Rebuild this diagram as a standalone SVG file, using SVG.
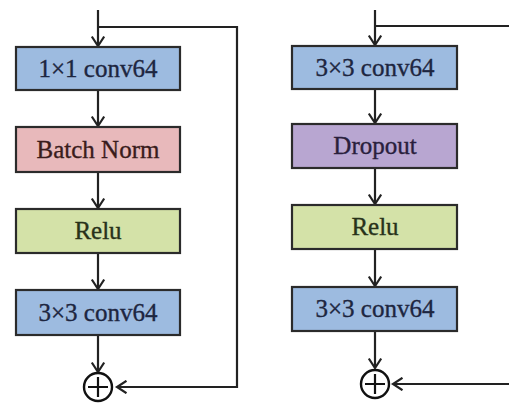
<svg xmlns="http://www.w3.org/2000/svg" width="509" height="404" viewBox="0 0 509 404">
<style>
.box{stroke:#2b2b2b;stroke-width:2.2}
.blue{fill:#9dbbe0}
.pink{fill:#e8b9bb}
.green{fill:#d4e2a8}
.purple{fill:#b8a6d1}
.lbl{font-family:"Liberation Serif","Times New Roman",serif;font-size:25px;text-anchor:middle;stroke-width:0.35}
.ln{fill:none;stroke:#222;stroke-width:2.2}
.sum{fill:#fff;stroke:#111;stroke-width:2.4}
</style>
<defs>
<marker id="ah" markerWidth="14" markerHeight="14" refX="11" refY="7" orient="auto" markerUnits="userSpaceOnUse">
<path d="M1.5,0.8 L11,7 L1.5,13.2" fill="none" stroke="#222" stroke-width="2.2"/>
</marker>
</defs>
<rect width="509" height="404" fill="#fff"/>
<g id="connectors">
<line class="ln" x1="98" y1="10" x2="98" y2="46" marker-end="url(#ah)"/>
<polyline class="ln" points="98,27 237,27 237,387 117,387" marker-end="url(#ah)"/>
<line class="ln" x1="98" y1="90" x2="98" y2="126" marker-end="url(#ah)"/>
<line class="ln" x1="98" y1="172" x2="98" y2="208" marker-end="url(#ah)"/>
<line class="ln" x1="98" y1="253" x2="98" y2="289" marker-end="url(#ah)"/>
<line class="ln" x1="98" y1="335" x2="98" y2="372" marker-end="url(#ah)"/>
<line class="ln" x1="375" y1="10" x2="375" y2="45" marker-end="url(#ah)"/>
<line class="ln" x1="375" y1="26" x2="509" y2="26"/>
<line class="ln" x1="375" y1="89" x2="375" y2="123" marker-end="url(#ah)"/>
<line class="ln" x1="375" y1="168" x2="375" y2="204" marker-end="url(#ah)"/>
<line class="ln" x1="375" y1="249" x2="375" y2="286" marker-end="url(#ah)"/>
<line class="ln" x1="375" y1="331" x2="375" y2="368" marker-end="url(#ah)"/>
<line class="ln" x1="509" y1="384" x2="393" y2="384" marker-end="url(#ah)"/>
</g>
<g id="l-conv1"><rect class="box blue" x="16" y="47" width="164" height="43"/><text class="lbl" x="98" y="77" fill="#1d2640" stroke="#1d2640">1×1 conv64</text></g>
<g id="l-bn"><rect class="box pink" x="16" y="127" width="164" height="45"/><text class="lbl" x="98" y="158" fill="#3a1c1c" stroke="#3a1c1c">Batch Norm</text></g>
<g id="l-relu"><rect class="box green" x="16" y="209" width="164" height="44"/><text class="lbl" x="98" y="239" fill="#28321a" stroke="#28321a">Relu</text></g>
<g id="l-conv2"><rect class="box blue" x="16" y="290" width="164" height="45"/><text class="lbl" x="98" y="321" fill="#1d2640" stroke="#1d2640">3×3 conv64</text></g>
<g id="l-sum"><circle class="sum" cx="98" cy="387" r="14"/><path d="M98,377 V397 M88,387 H108" stroke="#111" stroke-width="2.2"/></g>
<g id="r-conv1"><rect class="box blue" x="292" y="46" width="165" height="43"/><text class="lbl" x="375" y="76" fill="#1d2640" stroke="#1d2640">3×3 conv64</text></g>
<g id="r-drop"><rect class="box purple" x="292" y="124" width="165" height="44"/><text class="lbl" x="375" y="154" fill="#2a1f3d" stroke="#2a1f3d">Dropout</text></g>
<g id="r-relu"><rect class="box green" x="292" y="205" width="165" height="44"/><text class="lbl" x="375" y="235" fill="#28321a" stroke="#28321a">Relu</text></g>
<g id="r-conv2"><rect class="box blue" x="292" y="287" width="165" height="44"/><text class="lbl" x="375" y="317" fill="#1d2640" stroke="#1d2640">3×3 conv64</text></g>
<g id="r-sum"><circle class="sum" cx="375" cy="384" r="14"/><path d="M375,374 V394 M365,384 H385" stroke="#111" stroke-width="2.2"/></g>
</svg>
